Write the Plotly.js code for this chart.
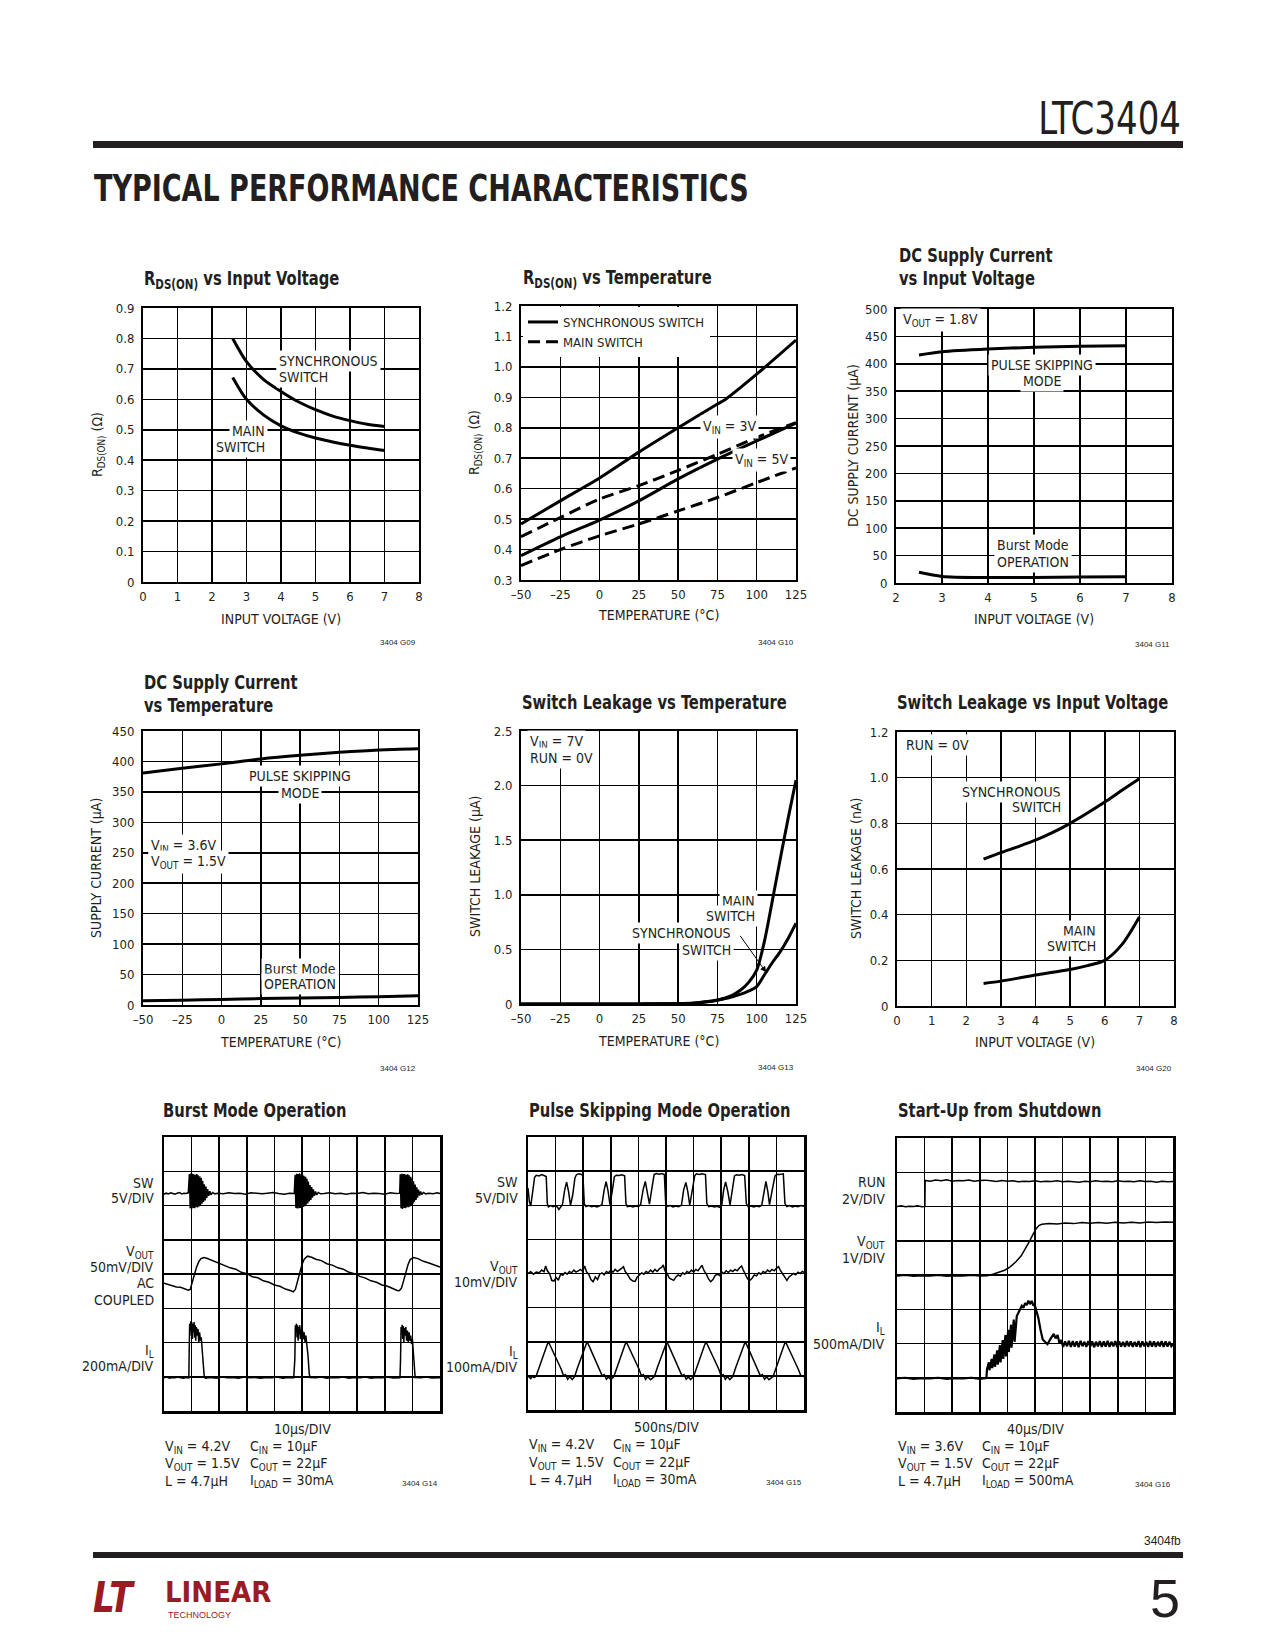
<!DOCTYPE html>
<html><head><meta charset="utf-8">
<script src="https://cdn.plot.ly/plotly-3.0.1.min.js"></script>
<style>html,body{margin:0;padding:0;background:#fff}#chart{width:1275px;height:1650px}</style>
</head><body><div id="chart"></div>
<script>
// ---------- DATA ----------
// Chart 1: RDS(ON) vs Input Voltage
const vin1 = [2.6, 3, 3.5, 4, 4.5, 5, 5.5, 6, 6.5, 7];
const rdsSync1 = [0.80, 0.724, 0.665, 0.626, 0.592, 0.566, 0.545, 0.53, 0.518, 0.511];
const rdsMain1 = [0.672, 0.60, 0.548, 0.513, 0.49, 0.473, 0.46, 0.449, 0.44, 0.432];
// Chart 2: RDS(ON) vs Temperature
const temp2 = [-50, -25, 0, 25, 50, 75, 80, 100, 125];
const sync3V = [0.484, 0.56, 0.635, 0.72, 0.80, 0.878, 0.893, 0.976, 1.088];
const temp2b = [-50, -25, 0, 25, 50, 75, 100, 125];
const main3V = [0.442, 0.505, 0.566, 0.61, 0.66, 0.713, 0.768, 0.817];
const sync5V = [0.38, 0.442, 0.497, 0.56, 0.632, 0.697, 0.757, 0.815];
const main5V = [0.347, 0.40, 0.445, 0.484, 0.527, 0.571, 0.62, 0.668];
// Chart 3: DC supply current vs input voltage
const vin3 = [2.5, 3, 4, 5, 6, 7];
const psCur3 = [416, 422, 427, 430, 432, 433];
const bmCur3 = [19.5, 12, 10, 10, 11, 11.5];
// Chart 4: DC supply current vs temperature
const temp4 = [-50, -25, 0, 25, 50, 75, 100, 125];
const psCur4 = [381, 389, 396, 404, 410, 415, 419, 421];
const bmCur4 = [7, 8, 9, 10.5, 11.5, 12.5, 13.7, 15];
// Chart 5: switch leakage vs temperature
const temp5 = [-50, 0, 25, 50, 60, 70, 75, 80, 85, 90, 95, 100, 105, 110, 115, 120, 125];
const leakMain5 = [0, 0, 0.001, 0.003, 0.008, 0.022, 0.035, 0.055, 0.085, 0.13, 0.2, 0.31, 0.58, 0.95, 1.33, 1.7, 2.05];
const leakSync5 = [0, 0, 0.001, 0.004, 0.01, 0.025, 0.037, 0.05, 0.068, 0.09, 0.12, 0.16, 0.27, 0.38, 0.48, 0.6, 0.74];
// Chart 6: switch leakage vs input voltage
const vin6 = [2.5, 3, 3.5, 4, 4.5, 5, 5.5, 6, 6.5, 7];
const leakSync6 = [0.643, 0.672, 0.698, 0.726, 0.76, 0.80, 0.845, 0.893, 0.945, 0.995];
const leakMain6 = [0.099, 0.109, 0.122, 0.136, 0.148, 0.16, 0.177, 0.2, 0.27, 0.39];

// Scope traces (x, y in divisions)
const burstSwX = [0,0.08,0.16,0.24,0.32,0.4,0.48,0.56,0.64,0.72,0.8,0.88,
 0.92,0.95,0.98,1.0,1.03,1.06,1.08,1.11,1.14,1.16,1.19,1.22,1.24,1.27,1.3,1.32,1.35,1.38,1.4,1.43,1.46,
 1.49,1.52,1.55,1.58,1.62,1.66,1.7,1.76,1.84,
 1.95,2.15,2.35,2.55,2.75,2.95,3.15,3.35,3.55,3.75,3.95,4.15,4.35,4.55,4.72,
 4.75,4.78,4.81,4.83,4.86,4.89,4.91,4.94,4.97,4.99,5.02,5.05,5.07,5.1,5.13,5.15,5.18,5.21,5.23,5.26,5.29,
 5.32,5.35,5.38,5.41,5.45,5.49,5.53,5.59,5.67,
 5.8,6.0,6.2,6.4,6.6,6.8,7.0,7.2,7.4,7.6,7.8,8.0,8.2,8.4,8.54,
 8.56,8.59,8.62,8.64,8.67,8.7,8.72,8.75,8.78,8.8,8.83,8.86,8.88,8.91,8.94,8.96,8.99,9.02,9.04,9.07,9.1,
 9.13,9.16,9.19,9.22,9.26,9.3,9.34,9.4,9.48,
 9.6,9.75,9.9,10];
const burstSwY = [6.33,6.36,6.34,6.37,6.35,6.33,6.36,6.38,6.34,6.36,6.35,6.37,
 6.92,5.92,6.94,5.9,6.93,5.93,6.91,5.92,6.9,5.95,6.92,5.94,6.88,5.97,6.85,6.0,6.8,6.05,6.72,6.1,6.62,
 6.15,6.55,6.22,6.48,6.28,6.42,6.31,6.38,6.34,
 6.36,6.34,6.37,6.35,6.36,6.33,6.37,6.35,6.34,6.36,6.38,6.35,6.33,6.36,6.35,
 6.9,5.93,6.93,5.91,6.92,5.92,6.94,5.93,6.91,5.94,6.9,5.96,6.87,5.98,6.84,6.02,6.78,6.06,6.7,6.12,6.6,
 6.16,6.54,6.23,6.47,6.28,6.41,6.31,6.38,6.34,
 6.35,6.37,6.34,6.36,6.33,6.36,6.35,6.38,6.34,6.36,6.35,6.33,6.37,6.35,6.36,
 6.91,5.92,6.93,5.9,6.92,5.93,6.92,5.92,6.9,5.95,6.91,5.95,6.88,5.97,6.84,6.01,6.79,6.05,6.71,6.11,6.61,
 6.16,6.53,6.23,6.46,6.29,6.41,6.32,6.38,6.34,
 6.36,6.34,6.37,6.35];
const burstVoutX = [0,0.15,0.3,0.45,0.6,0.75,0.88,0.95,1.02,1.1,1.18,1.26,1.34,1.44,1.55,1.7,1.85,2.0,2.2,2.4,2.6,2.8,3.0,3.2,3.4,3.6,3.8,4.0,4.2,4.4,4.6,4.68,4.76,4.84,4.92,5.0,5.08,5.2,5.35,5.5,5.7,5.9,6.1,6.3,6.5,6.7,6.9,7.1,7.3,7.5,7.7,7.9,8.1,8.3,8.45,8.52,8.6,8.68,8.76,8.84,8.92,9.04,9.2,9.4,9.6,9.8,10];
const burstVoutY = [3.73,3.69,3.67,3.62,3.61,3.56,3.53,3.55,3.72,3.98,4.2,4.36,4.45,4.48,4.46,4.41,4.37,4.31,4.26,4.18,4.14,4.05,4.01,3.92,3.89,3.8,3.76,3.68,3.64,3.56,3.51,3.48,3.55,3.8,4.05,4.28,4.43,4.52,4.49,4.43,4.39,4.3,4.26,4.18,4.14,4.05,4.01,3.93,3.88,3.8,3.76,3.68,3.64,3.56,3.52,3.51,3.58,3.8,4.05,4.27,4.42,4.48,4.45,4.37,4.32,4.25,4.2];
const burstIlX = [0,0.1,0.2,0.3,0.4,0.5,0.6,0.7,0.8,0.9,
 0.91,0.93,0.95,0.97,0.99,1.01,1.03,1.05,1.07,1.09,1.11,1.13,1.15,1.17,1.2,1.23,1.26,1.29,1.32,1.35,1.38,1.42,1.46,1.5,
 1.7,1.9,2.1,2.3,2.5,2.7,2.9,3.1,3.3,3.5,3.7,3.9,4.1,4.3,4.5,4.7,
 4.74,4.76,4.78,4.8,4.82,4.84,4.86,4.88,4.9,4.92,4.94,4.96,4.99,5.02,5.05,5.08,5.11,5.14,5.18,5.22,5.26,5.29,
 5.5,5.7,5.9,6.1,6.3,6.5,6.7,6.9,7.1,7.3,7.5,7.7,7.9,8.1,8.3,8.5,8.55,
 8.57,8.59,8.61,8.63,8.65,8.67,8.69,8.71,8.73,8.76,8.79,8.82,8.85,8.88,8.91,8.94,8.97,9.0,9.03,9.07,9.1,
 9.3,9.5,9.7,9.9,10];
const burstIlY = [0.97,0.99,0.96,0.98,0.97,0.99,0.97,0.96,0.98,0.97,
 1.6,2.55,2.35,2.62,2.2,2.58,2.1,2.55,2.3,2.6,2.15,2.5,2.05,2.45,2.2,2.4,2.0,2.3,2.05,2.15,1.9,1.4,0.99,0.96,
 0.98,0.96,0.99,0.97,0.98,0.96,0.99,0.97,0.98,0.96,0.98,0.97,0.99,0.96,0.98,0.97,
 1.5,2.5,2.3,2.55,2.15,2.5,2.05,2.45,2.25,2.5,2.1,2.4,2.05,2.35,2.1,2.3,2.0,2.2,1.95,1.6,1.1,0.98,
 0.97,0.99,0.96,0.98,0.97,0.99,0.96,0.98,0.97,0.99,0.96,0.98,0.97,0.99,0.96,0.98,0.97,
 1.5,2.45,2.25,2.52,2.1,2.48,2.0,2.42,2.2,2.45,2.05,2.35,2.0,2.3,2.05,2.2,1.95,2.1,1.7,1.2,0.98,
 0.97,0.99,0.96,0.98,0.97];

const psSwX = [0.0,0.05,0.1,0.16,0.24,0.3,0.4,0.5,0.6,0.66,0.7,0.74,0.82,0.9,0.98,1.06,1.12,1.18,1.25,1.33,1.4,1.47,1.54,1.62,1.7,1.76,1.85,1.93,1.99,2.04,2.1,2.2,2.3,2.4,2.5,2.6,2.68,2.76,2.83,2.9,2.97,3.05,3.13,3.2,3.3,3.4,3.5,3.55,3.6,3.7,3.8,3.9,4.0,4.08,4.17,4.25,4.32,4.4,4.48,4.57,4.65,4.75,4.85,4.94,4.99,5.05,5.15,5.25,5.35,5.45,5.56,5.64,5.72,5.79,5.86,5.95,6.04,6.1,6.2,6.3,6.43,6.48,6.55,6.65,6.75,6.85,6.95,7.02,7.09,7.16,7.24,7.32,7.4,7.48,7.55,7.65,7.75,7.85,7.91,7.98,8.08,8.18,8.28,8.38,8.47,8.55,8.62,8.69,8.75,8.85,8.95,9.02,9.12,9.25,9.31,9.38,9.48,9.58,9.68,9.78,9.88,10.0];
const psSwY = [6.5,6.1,5.98,6.3,6.82,6.88,6.86,6.9,6.87,6.84,6.05,5.95,5.99,5.96,5.98,5.95,5.88,5.96,6.02,6.45,6.68,6.4,6.0,6.3,6.8,6.9,6.92,6.9,6.88,6.05,5.96,5.99,5.96,5.98,5.95,5.98,6.02,6.45,6.69,6.42,6.02,6.4,6.84,6.88,6.87,6.89,6.86,6.05,5.96,5.98,5.95,5.98,5.96,6.02,6.45,6.7,6.4,6.03,6.45,6.9,6.93,6.91,6.93,6.9,6.05,5.97,5.99,5.95,5.98,5.96,6.0,6.45,6.67,6.4,6.0,6.4,6.86,6.92,6.9,6.92,6.9,6.05,5.96,5.98,5.95,5.97,5.94,6.0,6.45,6.68,6.4,6.01,6.4,6.86,6.89,6.88,6.9,6.87,6.05,5.96,5.98,5.95,5.98,5.96,6.0,6.45,6.7,6.4,6.02,6.45,6.86,6.91,6.9,6.92,6.05,5.96,5.99,5.95,5.98,5.96,5.99,5.97];
const psVoutX = [0,0.1,0.2,0.3,0.4,0.5,0.58,0.64,0.7,0.78,0.86,0.94,1.02,1.1,1.18,1.26,1.34,1.42,1.5,1.58,1.66,1.74,1.82,1.9,1.98,2.05,2.12,2.2,2.28,2.36,2.44,2.52,2.6,2.68,2.76,2.84,2.92,3.0,3.08,3.16,3.24,3.32,3.4,3.46,3.52,3.6,3.7,3.8,3.88,3.96,4.04,4.12,4.2,4.28,4.36,4.44,4.52,4.6,4.68,4.76,4.84,4.9,4.96,5.04,5.12,5.2,5.28,5.36,5.44,5.52,5.6,5.68,5.76,5.84,5.92,6.0,6.08,6.16,6.24,6.3,6.38,6.46,6.54,6.62,6.7,6.78,6.86,6.94,7.02,7.1,7.18,7.26,7.34,7.42,7.5,7.58,7.66,7.74,7.8,7.88,7.96,8.04,8.12,8.2,8.28,8.36,8.44,8.52,8.6,8.68,8.76,8.84,8.92,9.0,9.08,9.14,9.22,9.3,9.38,9.46,9.54,9.62,9.7,9.78,9.86,9.94,10];
const psVoutY = [4.0,4.05,3.98,4.04,4.02,4.1,4.05,4.22,4.08,4.0,3.8,3.78,3.88,3.8,3.98,3.95,4.03,3.98,4.06,4.02,4.1,4.04,4.08,4.12,4.06,4.22,4.05,3.98,3.82,3.76,3.9,3.82,3.98,4.02,3.96,4.06,4.02,4.1,4.04,4.12,4.06,4.1,4.16,4.2,4.06,3.98,3.84,3.78,3.77,3.9,3.96,4.02,3.98,4.06,4.02,4.1,4.04,4.12,4.06,4.14,4.18,4.25,4.08,4.0,3.86,3.82,3.8,3.9,3.96,3.92,4.02,3.98,4.06,4.02,4.1,4.04,4.12,4.08,4.16,4.24,4.08,3.98,3.84,3.76,3.82,3.94,3.98,3.94,4.04,4.0,4.08,4.03,4.1,4.06,4.12,4.08,4.16,4.22,4.1,3.98,3.84,3.8,3.86,3.96,3.93,4.02,3.98,4.06,4.02,4.1,4.05,4.12,4.08,4.15,4.2,4.1,4.0,3.86,3.8,3.9,3.96,4.0,3.96,4.04,4.0,4.06,4.03];
const psIlX = [0,0.05,0.1,0.16,0.22,0.29,0.4,0.5,0.6,0.68,0.74,0.8,0.9,1.0,1.1,1.2,1.29,1.36,1.44,1.52,1.6,1.69,
 1.8,1.9,2.0,2.08,2.14,2.2,2.3,2.4,2.5,2.6,2.69,2.76,2.84,2.92,3.0,3.11,
 3.22,3.32,3.42,3.5,3.56,3.62,3.72,3.82,3.92,4.02,4.11,4.18,4.26,4.34,4.44,4.58,
 4.69,4.79,4.89,4.97,5.03,5.09,5.19,5.29,5.39,5.49,5.58,5.65,5.73,5.81,5.89,6.0,
 6.11,6.21,6.31,6.39,6.45,6.51,6.61,6.71,6.81,6.91,7.0,7.07,7.15,7.23,7.31,7.42,
 7.53,7.63,7.73,7.81,7.87,7.93,8.03,8.13,8.23,8.33,8.42,8.49,8.57,8.65,8.73,8.88,
 8.99,9.09,9.19,9.27,9.33,9.39,9.49,9.59,9.69,9.79,9.88,9.94,10];
const psIlY = [1.0,0.96,0.92,0.99,0.95,0.98,1.25,1.48,1.7,1.88,2.0,1.9,1.72,1.55,1.38,1.2,1.0,1.04,0.9,0.98,0.89,0.98,
 1.25,1.48,1.7,1.88,2.0,1.9,1.72,1.55,1.38,1.2,1.0,1.04,0.9,0.97,0.89,0.98,
 1.25,1.48,1.7,1.88,2.0,1.9,1.72,1.55,1.38,1.2,1.0,1.04,0.9,0.98,0.89,0.98,
 1.25,1.48,1.7,1.88,2.0,1.9,1.72,1.55,1.38,1.2,1.0,1.04,0.9,0.97,0.89,0.98,
 1.25,1.48,1.7,1.88,2.0,1.9,1.72,1.55,1.38,1.2,1.0,1.04,0.9,0.98,0.89,0.98,
 1.25,1.48,1.7,1.88,2.0,1.9,1.72,1.55,1.38,1.2,1.0,1.04,0.9,0.97,0.89,0.98,
 1.25,1.48,1.7,1.88,2.0,1.9,1.72,1.55,1.38,1.2,1.02,1.0,0.97];

const suRunX = [0,0.15,0.3,0.45,0.6,0.75,0.9,1.01,1.02,1.2,1.4,1.6,1.8,2.0,2.2,2.4,2.6,2.8,3.0,3.2,3.4,3.6,3.8,4.0,4.2,4.4,4.6,4.8,5.0,5.2,5.4,5.6,5.8,6.0,6.2,6.4,6.6,6.8,7.0,7.2,7.4,7.6,7.8,8.0,8.2,8.4,8.6,8.8,9.0,9.2,9.4,9.6,9.8,10];
const suRunY = [6.0,6.02,5.99,6.01,6.0,6.02,5.99,6.0,6.76,6.74,6.77,6.75,6.78,6.74,6.76,6.75,6.77,6.74,6.76,6.77,6.75,6.73,6.76,6.74,6.75,6.72,6.74,6.73,6.75,6.72,6.74,6.73,6.75,6.72,6.74,6.73,6.71,6.74,6.72,6.75,6.73,6.74,6.72,6.75,6.73,6.74,6.72,6.75,6.73,6.74,6.71,6.74,6.72,6.73];
const suVoutX = [0,0.3,0.6,0.9,1.2,1.5,1.8,2.1,2.4,2.7,3.0,3.27,3.5,3.7,3.9,4.1,4.3,4.5,4.65,4.8,4.95,5.05,5.15,5.25,5.5,5.8,6.1,6.4,6.7,7.0,7.3,7.6,7.9,8.2,8.5,8.8,9.1,9.4,9.7,10];
const suVoutY = [3.97,3.99,3.96,3.98,3.97,3.99,3.96,3.98,3.97,3.99,3.97,3.98,4.03,4.08,4.14,4.24,4.38,4.56,4.76,4.98,5.22,5.36,5.45,5.48,5.5,5.49,5.52,5.5,5.53,5.51,5.53,5.51,5.54,5.52,5.54,5.52,5.55,5.53,5.55,5.54];
const suIlX = [0,0.3,0.6,0.9,1.2,1.5,1.8,2.1,2.4,2.7,3.0,3.24,3.26,3.33,3.35,3.43,3.45,3.53,3.55,3.63,3.65,3.73,3.75,3.83,3.85,3.93,3.95,4.03,4.05,4.13,4.15,4.23,4.26,4.34,4.4,4.46,4.52,4.58,4.64,4.7,4.76,4.82,4.88,4.94,5.0,5.05,5.12,5.2,5.28,5.36,5.45,5.55,5.62,5.68,5.75,5.82,5.88,5.95,6.02,6.09,6.16,6.23,6.3,6.37,6.44,6.51,6.58,6.65,6.72,6.79,6.86,6.93,7.0,7.07,7.14,7.21,7.28,7.35,7.42,7.49,7.56,7.63,7.7,7.77,7.84,7.91,7.98,8.05,8.12,8.19,8.26,8.33,8.4,8.47,8.54,8.61,8.68,8.75,8.82,8.89,8.96,9.03,9.1,9.17,9.24,9.31,9.38,9.45,9.52,9.59,9.66,9.73,9.8,9.87,9.94,10];
const suIlY = [0.98,1.0,0.97,0.99,0.98,1.0,0.97,0.99,0.98,1.0,0.97,0.99,1.25,1.45,1.22,1.55,1.28,1.68,1.32,1.8,1.38,1.95,1.45,2.1,1.55,2.25,1.62,2.4,1.75,2.55,1.88,2.7,2.05,2.8,2.9,2.98,3.1,3.04,3.18,3.12,3.25,3.15,3.24,3.12,3.1,2.95,2.75,2.4,2.12,2.05,1.98,2.12,2.2,2.28,2.15,2.25,2.02,2.1,1.9,2.06,1.92,2.08,1.9,2.07,1.91,2.06,1.89,2.08,1.92,2.05,1.9,2.07,1.91,2.06,1.89,2.05,1.92,2.07,1.9,2.06,1.91,2.08,1.9,2.05,1.92,2.07,1.89,2.06,1.91,2.05,1.9,2.07,1.92,2.06,1.9,2.05,1.91,2.07,1.89,2.06,1.92,2.05,1.9,2.07,1.91,2.06,1.9,2.05,1.92,2.07,1.9,2.06,1.91,2.05,1.92,1.98];

// Tick labels
const tickV8 = [0,1,2,3,4,5,6,7,8];
const tickT8 = ['0','1','2','3','4','5','6','7','8'];
const tickVtemp = [-50,-25,0,25,50,75,100,125];
const tickTtemp = ['\u201350','\u201325','0','25','50','75','100','125'];
const tickV1y = [0,0.1,0.2,0.3,0.4,0.5,0.6,0.7,0.8,0.9];
const tickT1y = ['0','0.1','0.2','0.3','0.4','0.5','0.6','0.7','0.8','0.9'];
const tickV2y = [0.3,0.4,0.5,0.6,0.7,0.8,0.9,1.0,1.1,1.2];
const tickT2y = ['0.3','0.4','0.5','0.6','0.7','0.8','0.9','1.0','1.1','1.2'];
const tickV3x = [2,3,4,5,6,7,8];
const tickT3x = ['2','3','4','5','6','7','8'];
const tickV3y = [0,50,100,150,200,250,300,350,400,450,500];
const tickT3y = ['0','50','100','150','200','250','300','350','400','450','500'];
const tickV4y = [0,50,100,150,200,250,300,350,400,450];
const tickT4y = ['0','50','100','150','200','250','300','350','400','450'];
const tickV5y = [0,0.5,1.0,1.5,2.0,2.5];
const tickT5y = ['0','0.5','1.0','1.5','2.0','2.5'];
const tickV6y = [0,0.2,0.4,0.6,0.8,1.0,1.2];
const tickT6y = ['0','0.2','0.4','0.6','0.8','1.0','1.2'];
const divX = [0,1,2,3,4,5,6,7,8,9,10];
const divY = [0,1,2,3,4,5,6,7,8];

// ---------- LAYOUT ----------
const W = 1275, H = 1650;
const INK = '#231f20';
const NARROW = '"Liberation Sans Narrow","Arial Narrow","DejaVu Sans Condensed",sans-serif';
const px2x = p => p / W, py2y = p => 1 - p / H;

function xAxis(l, r, range, tv, tt, anchor, show) {
  const a = {domain:[px2x(l), px2x(r)], range, tickvals:tv, anchor,
    showgrid:true, gridcolor:'#000', gridwidth:1.5, showline:true, linecolor:'#000', linewidth:2,
    mirror:true, zeroline:false, ticks:'', showticklabels:show, ticklabelstandoff:1,
    tickfont:{family:NARROW, size:13, color:INK}, fixedrange:true};
  if (tt) a.ticktext = tt;
  return a;
}
function yAxis(t, b, range, tv, tt, anchor, show) {
  const a = {domain:[py2y(b), py2y(t)], range, tickvals:tv, anchor,
    showgrid:true, gridcolor:'#000', gridwidth:1.5, showline:true, linecolor:'#000', linewidth:2,
    mirror:true, zeroline:false, ticks:'', showticklabels:show, ticklabelstandoff:4,
    tickfont:{family:NARROW, size:13, color:INK}, fixedrange:true};
  if (tt) a.ticktext = tt;
  return a;
}

const layout = {
  width:W, height:H, margin:{l:0,r:0,t:0,b:0}, paper_bgcolor:'#fff', plot_bgcolor:'#fff',
  showlegend:true, hovermode:false,
  legend:{x:px2x(523), y:py2y(307), xanchor:'left', yanchor:'top', bgcolor:'#fff', borderwidth:0,
    font:{family:NARROW, size:13, color:INK}, itemwidth:30, tracegroupgap:0, traceorder:'normal'},
  xaxis: xAxis(143,419,[0,8],tickV8,tickT8,'y',true),
  yaxis: yAxis(308,582,[0,0.9],tickV1y,tickT1y,'x',true),
  xaxis2: xAxis(521,796,[-50,125],tickVtemp,tickTtemp,'y2',true),
  yaxis2: yAxis(306,580,[0.3,1.2],tickV2y,tickT2y,'x2',true),
  xaxis3: xAxis(896,1172,[2,8],tickV3x,tickT3x,'y3',true),
  yaxis3: yAxis(309,583,[0,500],tickV3y,tickT3y,'x3',true),
  xaxis4: xAxis(143,418,[-50,125],tickVtemp,tickTtemp,'y4',true),
  yaxis4: yAxis(731,1005,[0,450],tickV4y,tickT4y,'x4',true),
  xaxis5: xAxis(521,796,[-50,125],tickVtemp,tickTtemp,'y5',true),
  yaxis5: yAxis(731,1004,[0,2.5],tickV5y,tickT5y,'x5',true),
  xaxis6: xAxis(897,1174,[0,8],tickV8,tickT8,'y6',true),
  yaxis6: yAxis(732,1006,[0,1.2],tickV6y,tickT6y,'x6',true),
  xaxis7: xAxis(164,440,[0,10],divX,null,'y7',false),
  yaxis7: yAxis(1137,1411,[0,8],divY,null,'x7',false),
  xaxis8: xAxis(528,804,[0,10],divX,null,'y8',false),
  yaxis8: yAxis(1137,1410,[0,8],divY,null,'x8',false),
  xaxis9: xAxis(897,1173,[0,10],divX,null,'y9',false),
  yaxis9: yAxis(1138,1412,[0,8],divY,null,'x9',false),
  annotations:[], shapes:[]
};
['xaxis7','yaxis7','xaxis8','yaxis8','xaxis9','yaxis9'].forEach(k=>{layout[k].linewidth=2.5;});

// ---------- TRACES ----------
const traces = [];
function curve(x, y, n, opts={}) {
  traces.push({x, y, xaxis:'x'+(n===1?'':n), yaxis:'y'+(n===1?'':n), type:'scatter', mode:'lines',
    line:{color:'#000', width:opts.w||3, dash:opts.dash||'solid', shape:opts.shape||'spline', smoothing:0.8},
    showlegend:!!opts.legend, name:opts.name||'', hoverinfo:'skip'});
}
curve(vin1, rdsSync1, 1); curve(vin1, rdsMain1, 1);
curve(temp2, sync3V, 2, {legend:true, name:'SYNCHRONOUS SWITCH'});
curve(temp2b, main3V, 2, {dash:'12px,6px', legend:true, name:'MAIN SWITCH'});
curve(temp2b, sync5V, 2);
curve(temp2b, main5V, 2, {dash:'12px,6px'});
curve(vin3, psCur3, 3); curve(vin3, bmCur3, 3);
curve(temp4, psCur4, 4); curve(temp4, bmCur4, 4);
curve(temp5, leakMain5, 5); curve(temp5, leakSync5, 5);
curve(vin6, leakSync6, 6); curve(vin6, leakMain6, 6);
const sc = {w:1.5, shape:'linear'};
curve(burstSwX, burstSwY, 7, sc); curve(burstVoutX, burstVoutY, 7, sc); curve(burstIlX, burstIlY, 7, sc);
curve(psSwX, psSwY, 8, sc); curve(psVoutX, psVoutY, 8, sc); curve(psIlX, psIlY, 8, sc);
curve(suRunX, suRunY, 9, sc); curve(suVoutX, suVoutY, 9, sc); curve(suIlX, suIlY, 9, {w:2.2, shape:'linear'});

// ---------- TEXT ----------
const A = layout.annotations;
function T(px, py, text, o={}) {
  const a = {xref:'paper', yref:'paper', x:px2x(px), y:py2y(py), text, showarrow:false,
    xanchor:o.anchor||'left', yanchor:'middle', align:o.anchor==='right'?'right':(o.anchor==='center'?'center':'left'),
    font:{family:o.family||NARROW, size:o.size||14, color:o.color||INK}, textangle:o.angle||0};
  if (o.bg) { a.bgcolor = '#fff'; a.borderpad = 2; }
  A.push(a);
}
// header / footer
T(1183, 118, 'LTC3404', {anchor:'right', size:44});
T(92, 188, '<b>TYPICAL PERFORMANCE CHARACTERISTICS</b>', {size:38});
layout.shapes.push({type:'line', xref:'paper', yref:'paper', x0:px2x(93), x1:px2x(1183), y0:py2y(144.5), y1:py2y(144.5), line:{color:INK, width:7}});
layout.shapes.push({type:'line', xref:'paper', yref:'paper', x0:px2x(93), x1:px2x(1183), y0:py2y(1555), y1:py2y(1555), line:{color:INK, width:6}});
T(1183, 1541, '3404fb', {anchor:'right', size:12, family:'"Liberation Sans",Arial,sans-serif'});
T(1182, 1598, '5', {anchor:'right', size:54, family:'"Liberation Sans",Arial,sans-serif'});
T(91, 1597, '<b><i>LT</i></b>', {size:42, color:'#9a1b22', family:'"DejaVu Sans",sans-serif'});
T(163, 1592, '<b>LINEAR</b>', {size:29, color:'#9a1b22', family:NARROW});
T(166, 1615, 'TECHNOLOGY', {size:9, color:'#9a1b22', family:'"Liberation Sans",Arial,sans-serif'});

// chart titles
const TB = s => '<b>' + s + '</b>';
T(142, 279, TB('R<sub>DS(ON)</sub> vs Input Voltage'), {size:20});
T(521, 278, TB('R<sub>DS(ON)</sub> vs Temperature'), {size:20});
T(897, 255, TB('DC Supply Current'), {size:20});
T(897, 278, TB('vs Input Voltage'), {size:20});
T(142, 682, TB('DC Supply Current'), {size:20});
T(142, 705, TB('vs Temperature'), {size:20});
T(520, 702, TB('Switch Leakage vs Temperature'), {size:20});
T(895, 702, TB('Switch Leakage vs Input Voltage'), {size:20});
T(161, 1110, TB('Burst Mode Operation'), {size:20});
T(527, 1110, TB('Pulse Skipping Mode Operation'), {size:20});
T(896, 1110, TB('Start-Up from Shutdown'), {size:20});

// axis titles
T(281, 619, 'INPUT VOLTAGE (V)', {anchor:'center'});
T(658, 615, 'TEMPERATURE (°C)', {anchor:'center'});
T(1034, 619, 'INPUT VOLTAGE (V)', {anchor:'center'});
T(280, 1042, 'TEMPERATURE (°C)', {anchor:'center'});
T(658, 1041, 'TEMPERATURE (°C)', {anchor:'center'});
T(1035, 1042, 'INPUT VOLTAGE (V)', {anchor:'center'});
T(98, 445, 'R<sub>DS(ON)</sub> (Ω)', {anchor:'center', angle:-90});
T(475, 443, 'R<sub>DS(ON)</sub> (Ω)', {anchor:'center', angle:-90});
T(853, 446, 'DC SUPPLY CURRENT (µA)', {anchor:'center', angle:-90});
T(96, 868, 'SUPPLY CURRENT (µA)', {anchor:'center', angle:-90});
T(475, 867, 'SWITCH LEAKAGE (µA)', {anchor:'center', angle:-90});
T(856, 869, 'SWITCH LEAKAGE (nA)', {anchor:'center', angle:-90});

// figure codes
const small = {anchor:'right', size:8, family:'"Liberation Sans",Arial,sans-serif'};
T(418, 642, '3404 G09', small); T(796, 642, '3404 G10', small); T(1172, 644, '3404 G11', small);
T(418, 1068, '3404 G12', small); T(796, 1067, '3404 G13', small); T(1174, 1068, '3404 G20', small);
T(440, 1483, '3404 G14', small); T(804, 1482, '3404 G15', small); T(1173, 1484, '3404 G16', small);

// chart-internal labels
const bg = {bg:true};
T(276, 361, 'SYNCHRONOUS', bg); T(276, 377, 'SWITCH', bg);
T(268, 431, 'MAIN', {bg:true, anchor:'right'}); T(268, 447, 'SWITCH', {bg:true, anchor:'right'});
T(700, 427, 'V<sub>IN</sub> = 3V', bg);
T(732, 460, 'V<sub>IN</sub> = 5V', bg);
T(900, 320, 'V<sub>OUT</sub> = 1.8V', bg);
T(1042, 365, 'PULSE SKIPPING', {bg:true, anchor:'center'}); T(1042, 381, 'MODE', {bg:true, anchor:'center'});
T(1033, 545, 'Burst Mode', {bg:true, anchor:'center'}); T(1033, 562, 'OPERATION', {bg:true, anchor:'center'});
T(300, 776, 'PULSE SKIPPING', {bg:true, anchor:'center'}); T(300, 793, 'MODE', {bg:true, anchor:'center'});
T(148, 846, 'V<sub>IN</sub> = 3.6V', bg); T(148, 862, 'V<sub>OUT</sub> = 1.5V', bg);
T(300, 969, 'Burst Mode', {bg:true, anchor:'center'}); T(300, 984, 'OPERATION', {bg:true, anchor:'center'});
T(527, 742, 'V<sub>IN</sub> = 7V', bg); T(527, 758, 'RUN = 0V', bg);
T(758, 901, 'MAIN', {bg:true, anchor:'right'}); T(758, 916, 'SWITCH', {bg:true, anchor:'right'});
T(734, 933, 'SYNCHRONOUS', {bg:true, anchor:'right'}); T(734, 950, 'SWITCH', {bg:true, anchor:'right'});
A.push({xref:'x5', yref:'y5', x:106, y:0.29, ax:-27, ay:-38, axref:'pixel', ayref:'pixel', text:'', showarrow:true,
  arrowhead:2, arrowsize:1.2, arrowwidth:1, arrowcolor:'#000'});
T(903, 745, 'RUN = 0V', bg);
T(1064, 792, 'SYNCHRONOUS', {bg:true, anchor:'right'}); T(1064, 807, 'SWITCH', {bg:true, anchor:'right'});
T(1099, 931, 'MAIN', {bg:true, anchor:'right'}); T(1099, 946, 'SWITCH', {bg:true, anchor:'right'});

// scope labels
const R = {anchor:'right'};
T(156, 1183, 'SW', R); T(156, 1198, '5V/DIV', R);
T(156, 1252, 'V<sub>OUT</sub>', R); T(156, 1267, '50mV/DIV', R); T(156, 1283, 'AC', R); T(156, 1300, 'COUPLED', R);
T(156, 1351, 'I<sub>L</sub>', R); T(156, 1366, '200mA/DIV', R);
T(520, 1182, 'SW', R); T(520, 1198, '5V/DIV', R);
T(520, 1267, 'V<sub>OUT</sub>', R); T(520, 1282, '10mV/DIV', R);
T(520, 1352, 'I<sub>L</sub>', R); T(520, 1367, '100mA/DIV', R);
T(887, 1182, 'RUN', R); T(887, 1199, '2V/DIV', R);
T(887, 1242, 'V<sub>OUT</sub>', R); T(887, 1258, '1V/DIV', R);
T(887, 1328, 'I<sub>L</sub>', R); T(887, 1344, '500mA/DIV', R);

// scope footers
T(302, 1429, '10µs/DIV', {anchor:'center'});
T(163, 1447, 'V<sub>IN</sub> = 4.2V'); T(163, 1464, 'V<sub>OUT</sub> = 1.5V'); T(163, 1481, 'L = 4.7µH');
T(248, 1447, 'C<sub>IN</sub> = 10µF'); T(248, 1464, 'C<sub>OUT</sub> = 22µF'); T(248, 1481, 'I<sub>LOAD</sub> = 30mA');
T(666, 1427, '500ns/DIV', {anchor:'center'});
T(527, 1445, 'V<sub>IN</sub> = 4.2V'); T(527, 1463, 'V<sub>OUT</sub> = 1.5V'); T(527, 1480, 'L = 4.7µH');
T(611, 1445, 'C<sub>IN</sub> = 10µF'); T(611, 1463, 'C<sub>OUT</sub> = 22µF'); T(611, 1480, 'I<sub>LOAD</sub> = 30mA');
T(1035, 1429, '40µs/DIV', {anchor:'center'});
T(896, 1447, 'V<sub>IN</sub> = 3.6V'); T(896, 1464, 'V<sub>OUT</sub> = 1.5V'); T(896, 1481, 'L = 4.7µH');
T(980, 1447, 'C<sub>IN</sub> = 10µF'); T(980, 1464, 'C<sub>OUT</sub> = 22µF'); T(980, 1481, 'I<sub>LOAD</sub> = 500mA');

Plotly.newPlot('chart', traces, layout, {staticPlot:true, displayModeBar:false}).then(() => {
  // condense the bold headings horizontally (the original uses a condensed face)
  document.querySelectorAll('#chart text.annotation-text').forEach(t => {
    const raw = t.getAttribute('data-unformatted') || '';
    let f = 0, fromRight = false;
    if (raw === '<b>TYPICAL PERFORMANCE CHARACTERISTICS</b>') f = 0.79;
    else if (raw === 'LTC3404') { f = 0.86; fromRight = true; }
    else if (raw.startsWith('<b>') && raw !== '<b>LINEAR</b>') f = 0.82;
    if (!f) return;
    const bb = t.getBBox();
    const x0 = fromRight ? bb.x + bb.width : bb.x;
    const prev = t.getAttribute('transform') || '';
    t.setAttribute('transform', prev + ' translate(' + x0 + ',0) scale(' + f + ',1) translate(' + (-x0) + ',0)');
  });
});
</script></body></html>
